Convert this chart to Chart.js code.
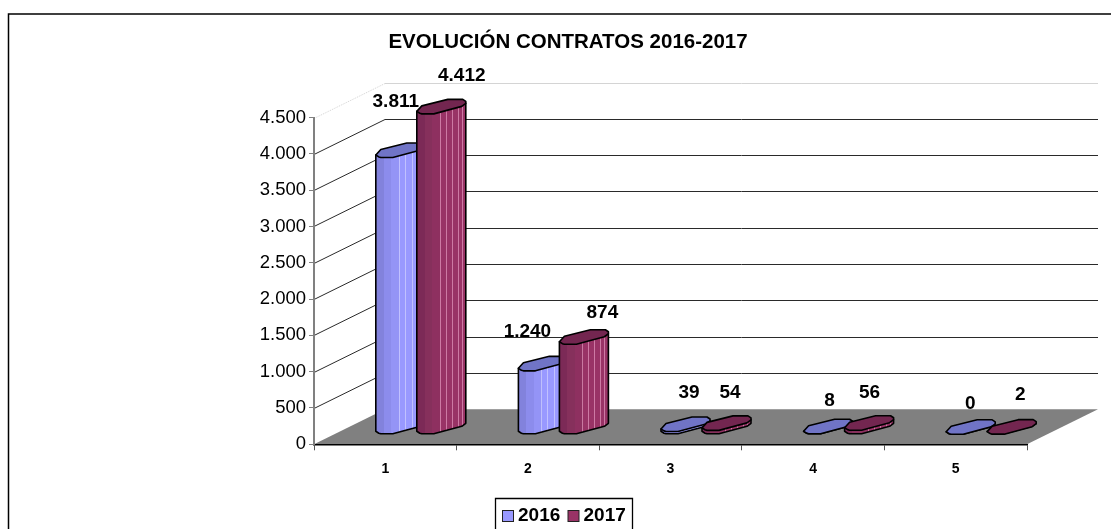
<!DOCTYPE html>
<html>
<head>
<meta charset="utf-8">
<style>html,body{margin:0;padding:0;background:#fff;overflow:hidden}canvas{display:block}</style>
<script src="https://cdn.jsdelivr.net/npm/chart.js@4/dist/chart.umd.min.js"></script>
</head>
<body>
<canvas id="c" width="1111" height="529"></canvas>
<script>
const categories = ['1', '2', '3', '4', '5'];
const values2016 = [3811, 874, 39, 8, 0];
const values2017 = [4412, 1240, 54, 56, 2];
const labels2016 = ['3.811', '1.240', '39', '8', '0'];
const labels2017 = ['4.412', '874', '54', '56', '2'];
const tickLabels = ['0', '500', '1.000', '1.500', '2.000', '2.500', '3.000', '3.500', '4.000', '4.500'];

const FONT = '"Liberation Sans", Arial, sans-serif';
const DEPTH_X = 71, DEPTH_Y = 35;
const labelNudge = [
  [[31, -66], [20, -49], [39, -49], [37, -43], [35, -41]],
  [[56, -48], [54, -41], [39, -48], [36, -47], [44, -49]]
];
const looks = [
  {top: '#7074c6', bands: ['#8282dc', '#8c8cec', '#9494f6', '#9999ff'], stripe: 'rgba(225,225,255,.55)', stripes: [23, 29, 36, 42]},
  {top: '#732650', bands: ['#7c2a57', '#86305c', '#8e3060', '#993366'], stripe: 'rgba(240,170,205,.6)', stripes: [23, 29, 35, 41, 45]}
];
const front = [[0, 2.5], [3, .6], [5, 0], [17, 0], [30, 3.5], [45, 7.5], [49, 10.5]];
const back = [[49, 12.5], [46, 14.5], [31, 14.5], [17, 11], [5, 8]];

function trace(ctx, pts) {
  ctx.beginPath();
  pts.forEach((p, i) => i ? ctx.lineTo(p[0], p[1]) : ctx.moveTo(p[0], p[1]));
  ctx.closePath();
}

function cylinder(ctx, bar, look) {
  const k = bar.width / 41;
  const left = bar.x + DEPTH_X / 2 - 24.5 * k;
  const baseY = bar.base - 10;
  const h = bar.base - bar.y;
  const at = (p, lift) => [left + p[0] * k, baseY - p[1] - lift];
  const last = front[front.length - 1];
  const body = front.map(p => at(p, 0)).concat([at(last, h), at(front[0], h)]);
  const w = 49 * k;
  const g = ctx.createLinearGradient(left, 0, left + w, 0);
  look.bands.forEach((c, i) => {
    g.addColorStop(i * .16, c);
    g.addColorStop(Math.min(1, (i + 1) * .16), c);
  });
  ctx.save();
  trace(ctx, body);
  ctx.fillStyle = g;
  ctx.fill();
  ctx.clip();
  ctx.fillStyle = look.stripe;
  look.stripes.forEach(s => ctx.fillRect(Math.round(left + s * k), bar.y - 40, 1, h + 60));
  ctx.restore();
  ctx.lineJoin = 'round';
  ctx.lineWidth = 1.6;
  ctx.strokeStyle = '#000';
  trace(ctx, body);
  ctx.stroke();
  trace(ctx, front.concat(back).map(p => at(p, h)));
  ctx.fillStyle = look.top;
  ctx.fill();
  ctx.stroke();
}

const scene = {
  id: 'scene',
  beforeDraw(chart) {
    const {ctx, scales: {x, y}} = chart;
    const xL = x.left, xR = x.right, y0 = y.getPixelForValue(0);
    chart.titleBlock.left = 13;
    chart.titleBlock.right = 1123;
    ctx.save();
    ctx.fillStyle = '#fff';
    ctx.fillRect(0, 0, chart.width, chart.height);
    // page frame
    ctx.strokeStyle = '#000';
    ctx.lineWidth = 1.5;
    ctx.beginPath();
    ctx.moveTo(8.5, 529);
    ctx.lineTo(8.5, 14);
    ctx.lineTo(1111, 14);
    ctx.stroke();
    // floor
    ctx.fillStyle = '#808080';
    ctx.beginPath();
    ctx.moveTo(xL, y0);
    ctx.lineTo(xR, y0);
    ctx.lineTo(xR + DEPTH_X, y0 - DEPTH_Y);
    ctx.lineTo(xL + DEPTH_X, y0 - DEPTH_Y);
    ctx.closePath();
    ctx.fill();
    // walls
    y.ticks.forEach((t, i) => {
      if (t.value === 0) return;
      const py = Math.round(y.getPixelForValue(t.value)) + .5;
      const top = i === y.ticks.length - 1;
      ctx.strokeStyle = top ? '#d4d4d4' : '#2a2a2a';
      ctx.lineWidth = 1;
      ctx.setLineDash([]);
      ctx.beginPath();
      ctx.moveTo(xL + DEPTH_X, py - DEPTH_Y);
      ctx.lineTo(xR + DEPTH_X, py - DEPTH_Y);
      ctx.stroke();
      if (top) ctx.setLineDash([1, 1]);
      ctx.beginPath();
      ctx.moveTo(xL, py);
      ctx.lineTo(xL + DEPTH_X, py - DEPTH_Y);
      ctx.stroke();
      ctx.setLineDash([]);
    });
    ctx.restore();
  },
  beforeDatasetsDraw(chart) {
    const {ctx} = chart;
    ctx.save();
    chart.data.datasets.forEach((ds, di) => {
      chart.getDatasetMeta(di).data.forEach(bar => cylinder(ctx, bar, looks[di]));
    });
    ctx.font = 'bold 19px ' + FONT;
    ctx.fillStyle = '#000';
    ctx.textAlign = 'center';
    ctx.textBaseline = 'middle';
    [labels2016, labels2017].forEach((texts, di) => {
      chart.getDatasetMeta(di).data.forEach((bar, i) => {
        const n = labelNudge[di][i];
        ctx.fillText(texts[i], bar.x + n[0], bar.y + n[1]);
      });
    });
    ctx.restore();
    return false;
  },
  afterDraw(chart) {
    const {ctx} = chart;
    ctx.save();
    ctx.strokeStyle = '#000';
    ctx.lineWidth = 1.3;
    ctx.beginPath();
    ctx.moveTo(495.5, 529);
    ctx.lineTo(495.5, 498.5);
    ctx.lineTo(632.5, 498.5);
    ctx.lineTo(632.5, 529);
    ctx.stroke();
    ctx.font = 'bold 19px ' + FONT;
    ctx.textBaseline = 'middle';
    ctx.textAlign = 'left';
    chart.data.datasets.forEach((ds, i) => {
      const bx = 502 + i * 65.5;
      ctx.fillStyle = ds.backgroundColor;
      ctx.fillRect(bx + .5, 510.5, 11, 11);
      ctx.lineWidth = 1;
      ctx.strokeStyle = '#222';
      ctx.strokeRect(bx + .5, 510.5, 11, 11);
      ctx.fillStyle = '#000';
      ctx.fillText(ds.label, bx + 16, 516);
    });
    ctx.restore();
  }
};

new Chart(document.getElementById('c'), {
  type: 'bar',
  data: {
    labels: categories,
    datasets: [
      {label: '2016', data: values2016, backgroundColor: '#9999FF', borderColor: '#000'},
      {label: '2017', data: values2017, backgroundColor: '#993366', borderColor: '#000'}
    ]
  },
  plugins: [scene],
  options: {
    responsive: false,
    animation: false,
    events: [],
    categoryPercentage: .575,
    barPercentage: 1,
    layout: {padding: {left: 0, right: 84, top: 0, bottom: 0}},
    plugins: {
      legend: {display: false},
      tooltip: {enabled: false},
      title: {
        display: true,
        text: 'EVOLUCIÓN CONTRATOS 2016-2017',
        color: '#000',
        font: {family: FONT, size: 20.5, weight: 'bold', lineHeight: 1},
        padding: {top: 32, bottom: 65}
      }
    },
    scales: {
      x: {
        afterFit(s) { s.height = 84.7; },
        grid: {display: true, drawOnChartArea: false, drawTicks: true, tickLength: 6, color: '#555'},
        border: {display: true, color: '#000', width: 1.5},
        ticks: {color: '#000', font: {family: FONT, size: 14, weight: 'bold'}, padding: 10, maxRotation: 0}
      },
      y: {
        min: 0,
        max: 4500,
        afterFit(s) { s.width = 314; },
        grid: {display: true, drawOnChartArea: false, drawTicks: true, tickLength: 5, color: '#808080'},
        border: {display: true, color: '#808080', width: 2},
        ticks: {
          stepSize: 500,
          color: '#000',
          font: {family: FONT, size: 18.5},
          padding: 3,
          callback: (v, i) => tickLabels[i]
        }
      }
    }
  }
});
</script>
</body>
</html>
